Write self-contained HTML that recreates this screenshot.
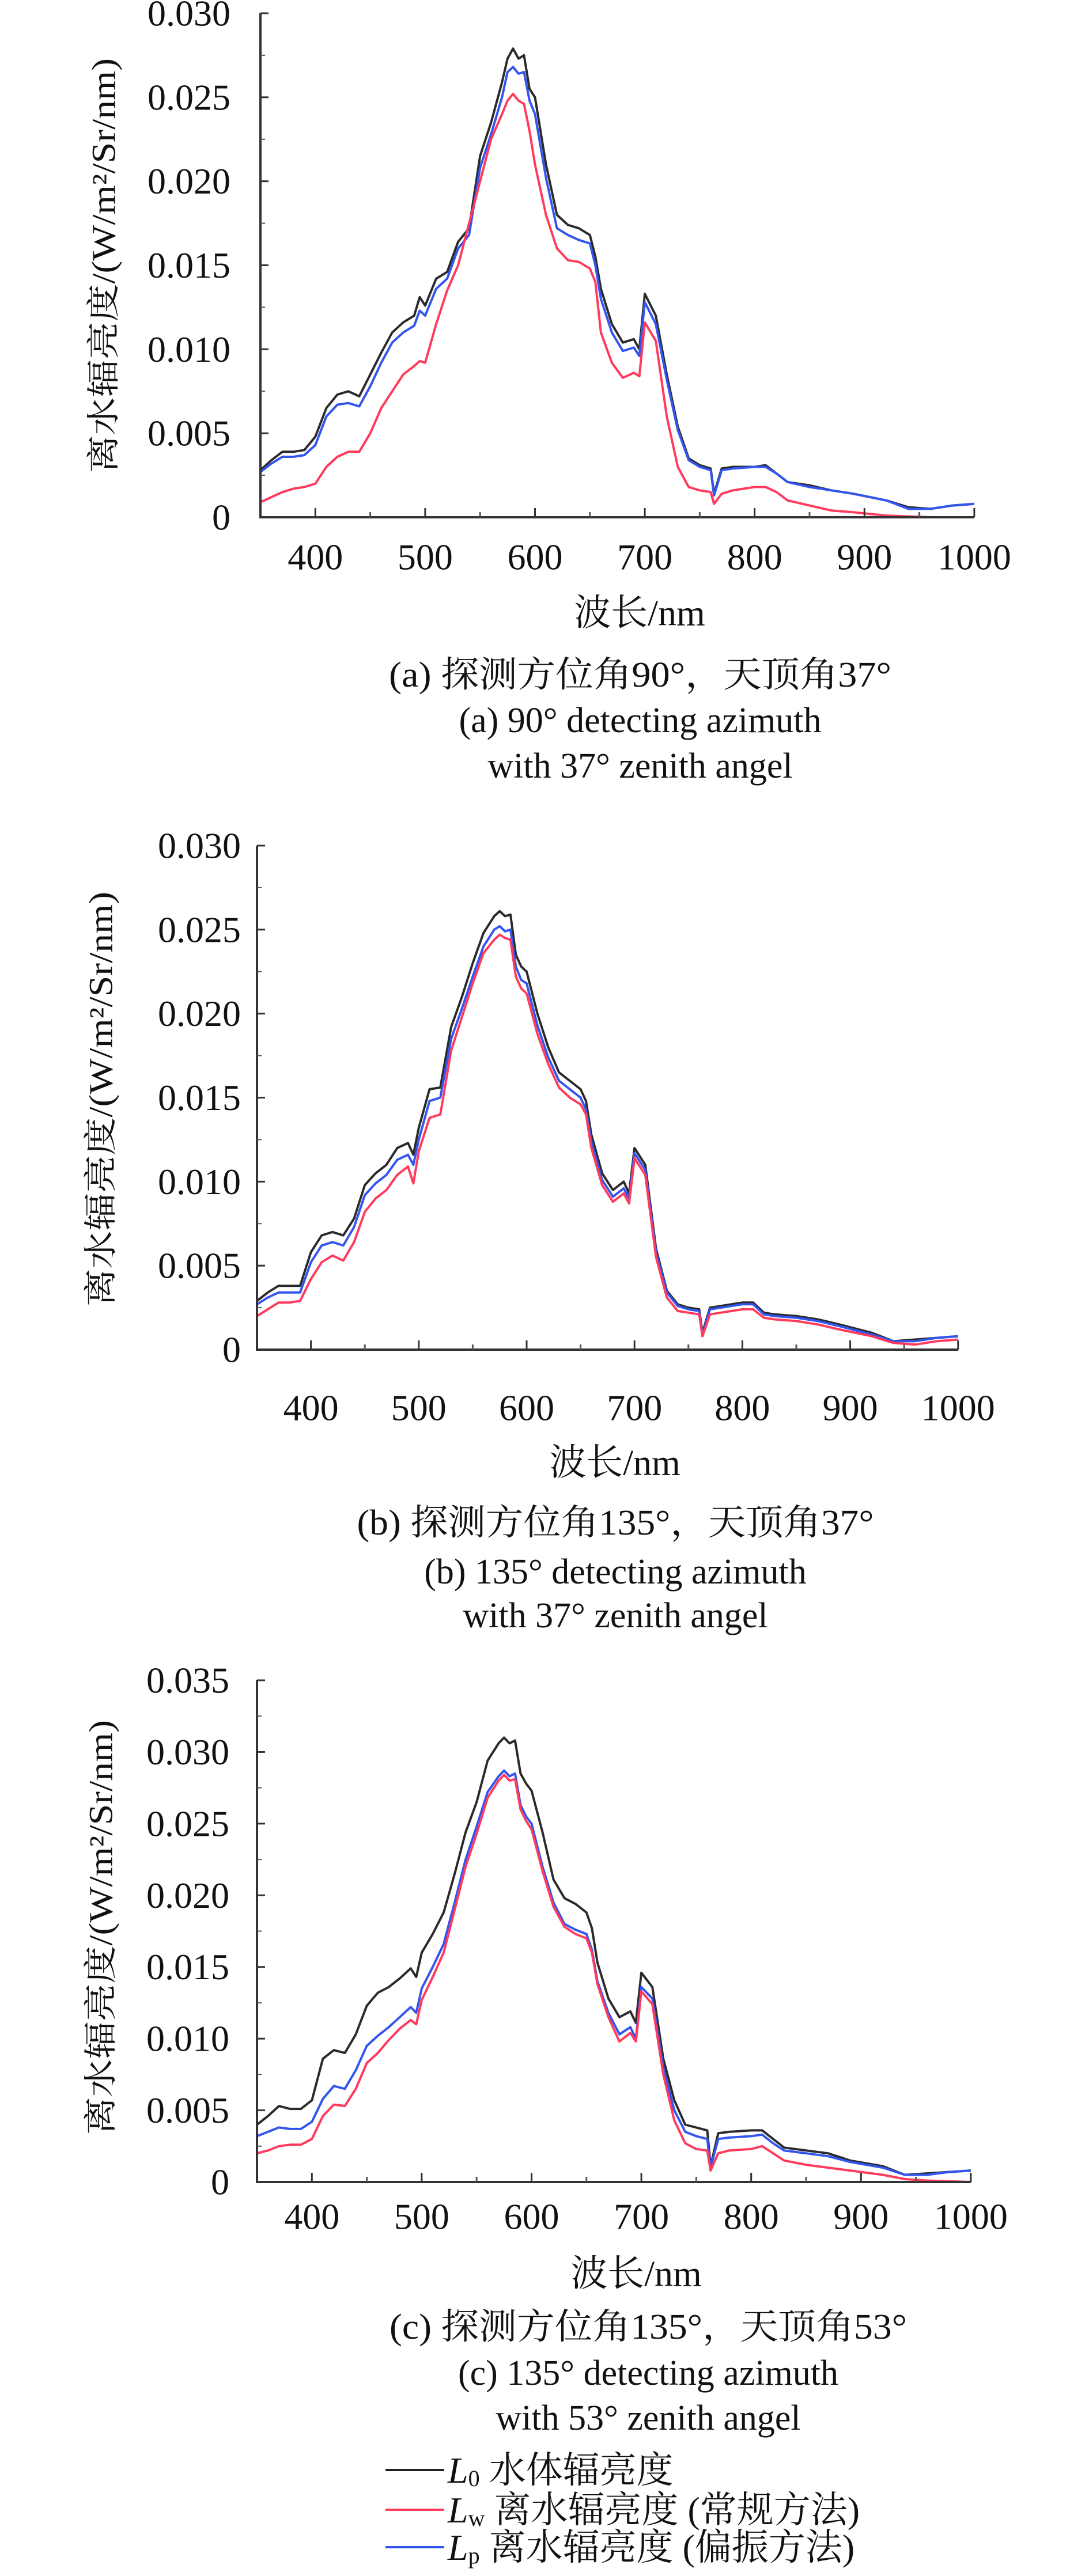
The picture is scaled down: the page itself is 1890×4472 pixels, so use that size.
<!DOCTYPE html>
<html><head><meta charset="utf-8">
<style>
html,body{margin:0;padding:0;background:#fff;}
svg{display:block;}
text{font-family:"Liberation Serif","Noto Serif CJK SC","Noto Sans CJK SC",serif;fill:#111;}
</style></head>
<body>
<svg id="fig" width="1890" height="4472" viewBox="0 0 1890 4472" xmlns="http://www.w3.org/2000/svg">
<g id="legend">
  <g>
    <line x1="669" y1="4288" x2="771" y2="4288" stroke="#222" stroke-width="4"/>
    <text x="777" y="4288" dominant-baseline="central" font-size="64"><tspan font-style="italic">L</tspan><tspan font-size="40" dy="14">0</tspan><tspan dy="-14"> 水体辐亮度</tspan></text>
  </g>
  <g>
    <line x1="669" y1="4357" x2="771" y2="4357" stroke="#ff3a5c" stroke-width="4"/>
    <text x="777" y="4357" dominant-baseline="central" font-size="64"><tspan font-style="italic">L</tspan><tspan font-size="40" dy="14">w</tspan><tspan dy="-14"> 离水辐亮度 (常规方法)</tspan></text>
  </g>
  <g>
    <line x1="669" y1="4422" x2="771" y2="4422" stroke="#3355ee" stroke-width="4"/>
    <text x="777" y="4422" dominant-baseline="central" font-size="64"><tspan font-style="italic">L</tspan><tspan font-size="40" dy="14">p</tspan><tspan dy="-14"> 离水辐亮度 (偏振方法)</tspan></text>
  </g>
</g>
</svg>
<script>
// Shared wavelength categories (nm)
const wavelengths = [350,360,370,380,390,400,410,420,430,440,450,460,470,480,490,495,500,510,520,530,540,550,560,570,575,580,585,590,595,600,610,620,630,640,650,655,660,670,680,690,695,700,710,720,730,740,750,760,763,770,780,800,810,820,830,850,870,890,920,940,960,980,1000];
const xTicks = [400,500,600,700,800,900,1000];

// Chart (a): values in 1e-3 W/m2/Sr/nm
const a_L0 = [2.8,3.4,3.9,3.9,4.0,4.8,6.5,7.3,7.5,7.2,8.5,9.8,11.0,11.6,12.0,13.1,12.6,14.2,14.6,16.4,17.2,21.5,23.5,25.9,27.3,27.9,27.3,27.5,25.5,25.0,21.0,18.0,17.4,17.2,16.8,15.5,13.6,11.5,10.4,10.6,10.0,13.3,12.0,8.5,5.4,3.5,3.1,2.9,1.4,2.9,3.0,3.0,3.1,2.6,2.1,1.9,1.6,1.4,1.0,0.6,0.5,0.7,0.8];
const a_Lw = [0.9,1.2,1.5,1.7,1.8,2.0,3.0,3.6,3.9,3.9,5.0,6.5,7.5,8.5,9.0,9.3,9.2,11.5,13.5,15.0,17.5,20.0,22.5,24.0,24.8,25.2,24.8,24.6,23.0,21.0,18.0,16.0,15.3,15.2,14.8,14.0,11.0,9.2,8.3,8.6,8.4,11.6,10.5,6.0,3.0,1.8,1.6,1.5,0.8,1.4,1.6,1.8,1.8,1.5,1.0,0.7,0.4,0.3,0.1,0.05,0,0,0];
const a_Lp = [2.7,3.2,3.6,3.6,3.7,4.3,6.0,6.7,6.8,6.6,7.8,9.2,10.4,11.0,11.4,12.3,12.0,13.6,14.2,16.0,16.8,20.8,22.8,25.0,26.5,26.8,26.4,26.5,24.8,24.0,20.2,17.2,16.8,16.5,16.3,15.0,13.0,11.0,9.9,10.1,9.6,12.8,11.5,8.2,5.2,3.4,3.0,2.8,1.3,2.8,2.9,3.0,3.0,2.6,2.1,1.8,1.6,1.4,1.0,0.5,0.5,0.7,0.8];
const a_yTicks = ["0","0.005","0.010","0.015","0.020","0.025","0.030"];

// Chart (b)
const b_L0 = [2.9,3.4,3.8,3.8,3.8,5.8,6.8,7.0,6.8,7.8,9.8,10.5,11.0,12.0,12.3,11.6,13.2,15.5,15.6,19.2,21.0,23.0,24.8,25.8,26.1,25.8,25.9,23.5,22.8,22.5,20.0,18.0,16.5,16.0,15.5,14.8,12.8,10.5,9.5,10.0,9.3,12.0,11.0,6.0,3.5,2.7,2.5,2.4,1.0,2.5,2.6,2.8,2.8,2.2,2.1,2.0,1.8,1.5,1.0,0.5,0.6,0.7,0.8];
const b_Lw = [2.0,2.4,2.8,2.8,2.9,4.2,5.2,5.6,5.3,6.4,8.2,9.0,9.5,10.4,10.9,9.9,11.8,13.8,14.0,17.8,19.8,21.8,23.6,24.4,24.7,24.5,24.4,22.2,21.5,21.2,18.8,17.0,15.6,15.0,14.6,14.0,12.0,9.8,8.8,9.3,8.7,11.4,10.4,5.5,3.1,2.3,2.2,2.1,0.8,2.1,2.2,2.4,2.4,1.9,1.8,1.7,1.5,1.2,0.8,0.4,0.3,0.5,0.6];
const b_Lp = [2.7,3.1,3.4,3.4,3.4,5.2,6.2,6.4,6.2,7.3,9.2,9.9,10.4,11.3,11.6,11.0,12.5,14.8,15.0,18.5,20.3,22.2,24.0,25.0,25.2,24.9,25.0,22.8,22.0,21.8,19.3,17.4,16.0,15.5,15.0,14.3,12.4,10.1,9.1,9.6,9.0,11.7,10.7,5.8,3.4,2.6,2.4,2.3,0.9,2.4,2.5,2.7,2.7,2.1,2.0,1.9,1.7,1.4,0.9,0.5,0.5,0.7,0.8];
const b_yTicks = ["0","0.005","0.010","0.015","0.020","0.025","0.030"];

// Chart (c)
const c_L0 = [4.0,4.6,5.3,5.1,5.1,5.7,8.6,9.2,9.0,10.3,12.3,13.2,13.6,14.2,14.9,14.3,16.0,17.3,18.8,21.5,24.4,26.5,29.4,30.6,31.0,30.6,30.8,28.5,27.8,27.3,24.4,21.1,19.8,19.4,18.8,17.7,15.3,12.8,11.5,11.9,11.1,14.6,13.6,8.6,5.7,4.0,3.8,3.6,1.1,3.4,3.5,3.6,3.6,3.0,2.4,2.2,2.0,1.5,1.1,0.5,0.6,0.7,0.8];
const c_Lw = [2.0,2.2,2.5,2.6,2.6,3.0,4.6,5.4,5.3,6.5,8.3,9.0,9.9,10.7,11.3,11.0,12.7,14.3,16.0,19.0,22.0,24.3,26.8,28.0,28.4,28.0,28.1,26.0,25.2,24.6,21.7,19.2,17.8,17.3,17.0,16.0,13.8,11.5,9.8,10.4,9.8,13.3,12.4,7.5,4.3,2.7,2.3,2.2,0.8,2.0,2.2,2.3,2.5,2.0,1.5,1.2,1.0,0.8,0.5,0.2,0.1,0.05,0];
const c_Lp = [3.2,3.5,3.8,3.7,3.7,4.2,5.8,6.7,6.5,7.8,9.5,10.2,10.8,11.5,12.2,11.8,13.5,15.0,16.6,19.5,22.5,24.8,27.2,28.3,28.7,28.3,28.5,26.3,25.5,25.0,22.0,19.5,18.0,17.6,17.3,16.2,14.0,11.8,10.3,10.8,10.0,13.6,12.8,8.0,5.0,3.5,3.2,3.0,1.0,3.0,3.1,3.2,3.3,2.7,2.2,2.0,1.8,1.4,1.0,0.5,0.5,0.7,0.8];
const c_yTicks = ["0","0.005","0.010","0.015","0.020","0.025","0.030","0.035"];

const NS = "http://www.w3.org/2000/svg";
const svg = document.getElementById('fig');
function mk(tag, attrs, parent){
  const e = document.createElementNS(NS, tag);
  for (const k in attrs) e.setAttribute(k, attrs[k]);
  (parent||svg).appendChild(e);
  return e;
}

const charts = [
  {id:'a', left:452, zero:898, top:23, ymax:30, pxnm:1.906, ylabR:400, xlabY:967, titleY:1064, titleX:1110, ytX:180, ytY:461,
   capX:1111, capY:[1172,1251,1330], capLen:872,
   cap:["(a) 探测方位角90°，天顶角37°","(a) 90° detecting azimuth","with 37° zenith angel"],
   L0:a_L0, Lw:a_Lw, Lp:a_Lp, yt:a_yTicks},
  {id:'b', left:446, zero:2343, top:1468, ymax:30, pxnm:1.872, ylabR:418, xlabY:2444, titleY:2539, titleX:1067, ytX:175, ytY:1908,
   capX:1068, capY:[2644,2729,2805], capLen:897,
   cap:["(b) 探测方位角135°，天顶角37°","(b) 135° detecting azimuth","with 37° zenith angel"],
   L0:b_L0, Lw:b_Lw, Lp:b_Lp, yt:b_yTicks},
  {id:'c', left:446, zero:3788, top:2917, ymax:35, pxnm:1.906, ylabR:398, xlabY:3848, titleY:3947, titleX:1104, ytX:175, ytY:3346,
   capX:1125, capY:[4040,4120,4198], capLen:898,
   cap:["(c) 探测方位角135°，天顶角53°","(c) 135° detecting azimuth","with 53° zenith angel"],
   L0:c_L0, Lw:c_Lw, Lp:c_Lp, yt:c_yTicks}
];

charts.forEach(c => {
  const g = mk('g', {});
  
  
  const xS = wl => c.left + (wl - 350) * c.pxnm;
  const yS = v => c.zero - v / c.ymax * (c.zero - c.top);
  const xEnd = xS(1000);

  // series
  const series = [['L0','#2a2a2a'],['Lp','#3355ee'],['Lw','#ff3a5c']];
  series.forEach(([key,col]) => {
    const vals = c[key];
    let d = '';
    for (let i=0;i<wavelengths.length;i++){
      d += (i?'L':'M') + xS(wavelengths[i]).toFixed(1) + ',' + yS(vals[i]).toFixed(1);
    }
    const p = mk('path', {d:d, fill:'none', stroke:col, 'stroke-width':4, 'stroke-linejoin':'round'}, g);
    
    
  });

  // axes
  const ax = mk('path', {d:`M${c.left},${c.top}V${c.zero}H${xEnd}`, fill:'none', stroke:'#333', 'stroke-width':4}, g);
  
  

  // y ticks
  const step = (c.zero - c.top) / (c.yt.length - 1);
  c.yt.forEach((lab,i) => {
    const y = c.zero - i*step;
    mk('line', {x1:c.left, x2:c.left+14, y1:y, y2:y, stroke:'#333', 'stroke-width':3}, g);
    if (i>0) { const ym = y + step/2; mk('line', {x1:c.left, x2:c.left+8, y1:ym, y2:ym, stroke:'#555', 'stroke-width':2}, g); }
    const t = mk('text', {x:c.ylabR, y:y, 'text-anchor':'end', 'dominant-baseline':'central', 'font-size':64}, g);
    t.textContent = lab;
    
    
  });
  // x ticks
  xTicks.forEach(wl => {
    const x = xS(wl);
    mk('line', {x1:x, x2:x, y1:c.zero, y2:c.zero-16, stroke:'#333', 'stroke-width':3}, g);
    if (wl < 1000) { const xm = xS(wl+50); mk('line', {x1:xm, x2:xm, y1:c.zero, y2:c.zero-9, stroke:'#555', 'stroke-width':3}, g); }
    const t = mk('text', {x:x, y:c.xlabY, 'text-anchor':'middle', 'dominant-baseline':'central', 'font-size':64}, g);
    t.textContent = wl;
    
    
  });

  // axis titles
  const xt = mk('text', {x:c.titleX, y:c.titleY, 'text-anchor':'middle', 'dominant-baseline':'central', 'font-size':64}, g);
  xt.textContent = '波长/nm';
  
  

  const yt = mk('text', {x:0, y:0, 'text-anchor':'middle', 'dominant-baseline':'central', 'font-size':58,
    textLength:720, lengthAdjust:'spacingAndGlyphs',
    transform:`translate(${c.ytX},${c.ytY}) rotate(-90)`}, g);
  yt.textContent = '离水辐亮度/(W/m²/Sr/nm)';
  
  

  // captions
  c.cap.forEach((line,i) => {
    const attrs = {x:c.capX, y:c.capY[i], 'text-anchor':'middle', 'dominant-baseline':'central', 'font-size':62};
    if (i===0) { attrs.textLength = c.capLen; attrs.lengthAdjust = 'spacingAndGlyphs'; }
    const t = mk('text', attrs, g);
    t.textContent = line;
    
    
  });
});
</script>
</body></html>
